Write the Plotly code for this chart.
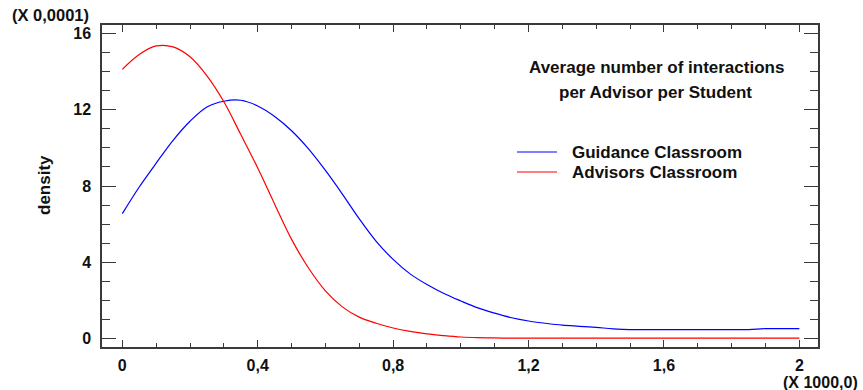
import plotly.graph_objects as go

# ---- data (x in units of 1000, density in units of 0.0001) ----
x_vals = [0.00, 0.05, 0.10, 0.15, 0.20, 0.25, 0.30, 0.35, 0.40, 0.45,
          0.50, 0.55, 0.60, 0.65, 0.70, 0.75, 0.80, 0.85, 0.90, 0.95,
          1.00, 1.05, 1.10, 1.15, 1.20, 1.25, 1.30, 1.35, 1.40, 1.45,
          1.50, 1.55, 1.60, 1.65, 1.70, 1.75, 1.80, 1.85, 1.90, 1.95, 2.00]

guidance = [6.55, 7.95, 9.20, 10.40, 11.40, 12.15, 12.45, 12.50, 12.20, 11.65,
            10.90, 9.95, 8.82, 7.58, 6.28, 5.10, 4.15, 3.39, 2.83, 2.36,
            1.97, 1.61, 1.33, 1.09, 0.92, 0.80, 0.70, 0.64, 0.58, 0.51,
            0.47, 0.47, 0.47, 0.47, 0.47, 0.47, 0.47, 0.47, 0.52, 0.52, 0.52]

advisors = [14.12, 14.90, 15.35, 15.30, 14.78, 13.78, 12.42, 10.70, 8.95, 7.05,
            5.20, 3.70, 2.50, 1.66, 1.12, 0.80, 0.55, 0.37, 0.24, 0.15,
            0.08, 0.045, 0.03, 0.02, 0.02, 0.02, 0.02, 0.02, 0.02, 0.02,
            0.02, 0.02, 0.02, 0.02, 0.02, 0.02, 0.02, 0.02, 0.02, 0.02, 0.02]

series_names = ["Guidance Classroom", "Advisors Classroom"]
series_colors = ["#0000FF", "#FF0000"]

x_tickvals = [0, 0.4, 0.8, 1.2, 1.6, 2.0]
x_ticktext = ["0", "0,4", "0,8", "1,2", "1,6", "2"]
y_tickvals = [0, 4, 8, 12, 16]
y_ticktext = ["0", "4", "8", "12", "16"]

legend_title = ["Average number of interactions", "per Advisor per Student"]

# ---- layout geometry (pixels) ----
W, H = 863, 390
L, R, T, B = 102, 818, 25, 347


def px(xp):
    return (xp - L) / (R - L)


def py(yp):
    return (B - yp) / (B - T)


FONT = "Liberation Sans, Arial, sans-serif"

fig = go.Figure()
for name, ys, col in zip(series_names, [guidance, advisors], series_colors):
    fig.add_trace(go.Scatter(x=x_vals, y=ys, mode="lines", name=name,
                             line=dict(color=col, width=1.2, shape="spline", smoothing=1.0),
                             showlegend=False))

axis_common = dict(
    showline=True, linecolor="#3a3a3a", linewidth=1.5, mirror="allticks",
    ticks="inside", tickcolor="#3a3a3a", tickwidth=1,
    showgrid=False, zeroline=False,
    tickfont=dict(family=FONT, size=16, color="#111", weight="bold"),
)

fig.update_layout(
    width=W, height=H,
    margin=dict(l=L, r=W - R, t=T, b=H - B, pad=0),
    paper_bgcolor="white", plot_bgcolor="white",
    xaxis=dict(range=[-0.06, 2.055], tickvals=x_tickvals, ticktext=x_ticktext,
               ticklen=7, ticklabelstandoff=3,
               minor=dict(ticks="inside", dtick=0.1, ticklen=4, tickcolor="#3a3a3a",
                          showgrid=False),
               **axis_common),
    yaxis=dict(range=[-0.446, 16.45], tickvals=y_tickvals, ticktext=y_ticktext,
               ticklen=14, ticklabelstandoff=6,
               minor=dict(ticks="inside", dtick=1, ticklen=8, tickcolor="#3a3a3a",
                          showgrid=False),
               **axis_common),
)


def f(size):
    return dict(family=FONT, size=size, color="#111", weight="bold")


annotations = [
    dict(x=px(10), y=py(15), text="(X 0,0001)", xanchor="left", yanchor="middle", font=f(16.5)),
    dict(x=px(860), y=py(382), text="(X 1000,0)", xanchor="right", yanchor="middle", font=f(16)),
    dict(x=px(44), y=py(185), text="density", textangle=-90, xanchor="center", yanchor="middle",
         font=f(17)),
    dict(x=px(656), y=py(67), text=legend_title[0], xanchor="center", yanchor="middle", font=f(17)),
    dict(x=px(655), y=py(93), text=legend_title[1], xanchor="center", yanchor="middle", font=f(17)),
    dict(x=px(570), y=py(152), text=series_names[0], xanchor="left", yanchor="middle", font=f(17)),
    dict(x=px(570), y=py(172), text=series_names[1], xanchor="left", yanchor="middle", font=f(17)),
]
for a in annotations:
    a.update(xref="paper", yref="paper", showarrow=False)
fig.update_layout(annotations=annotations)

for yy, col in zip([152, 172], series_colors):
    fig.add_shape(type="line", xref="paper", yref="paper",
                  x0=px(517), x1=px(557), y0=py(yy), y1=py(yy),
                  line=dict(color=col, width=1.2))

fig.write_html("out.html")
